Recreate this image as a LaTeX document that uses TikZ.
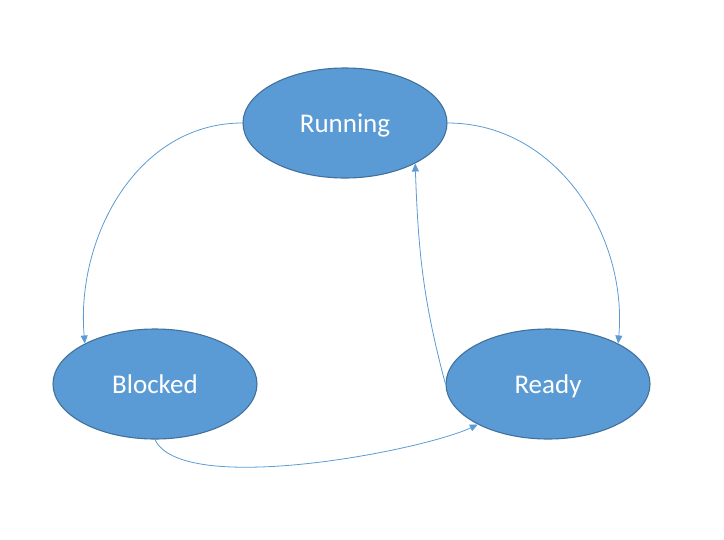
\documentclass[tikz,border=0pt]{standalone}
\usepackage{fontspec}
\setmainfont{Carlito}
\usetikzlibrary{shapes.geometric,arrows.meta}
\definecolor{procfill}{HTML}{5B9BD5}
\definecolor{procline}{HTML}{41719C}
\definecolor{edgeline}{HTML}{5B9BD5}

\begin{document}
\begin{tikzpicture}[x=1pt,y=1pt,
    ->,>={Triangle[length=8pt,width=7pt]},
    proc/.style={ellipse, draw=procline, line width=1.1pt, fill=procfill,
        minimum width=204pt, minimum height=110pt, inner sep=0pt,
        text height=24pt, text depth=4.5pt,
        text=white, font=\fontsize{27}{32}\selectfont},
    trans/.style={draw=edgeline, line width=0.8pt}]

    \useasboundingbox (0,0) rectangle (724,-539);

    % 设置节点(进程状态)
    \node[proc] (R) at (345,-123) {Running};
    \node[proc] (B) at (155,-384) {Blocked};
    \node[proc] (D) at (548,-384) {Ready};

    % 画出状态转移的箭头
    \draw[trans] (R.west) to[out=180,in=95] (B.150);
    \draw[trans] (R.east) to[out=0,in=85] (D.30);
    \draw[trans] (D.180) to[out=105,in=-88] (R.-30);
    \draw[trans] (B.south) to[out=-65,in=205,looseness=0.5] (D.210);

\end{tikzpicture}
\end{document}
